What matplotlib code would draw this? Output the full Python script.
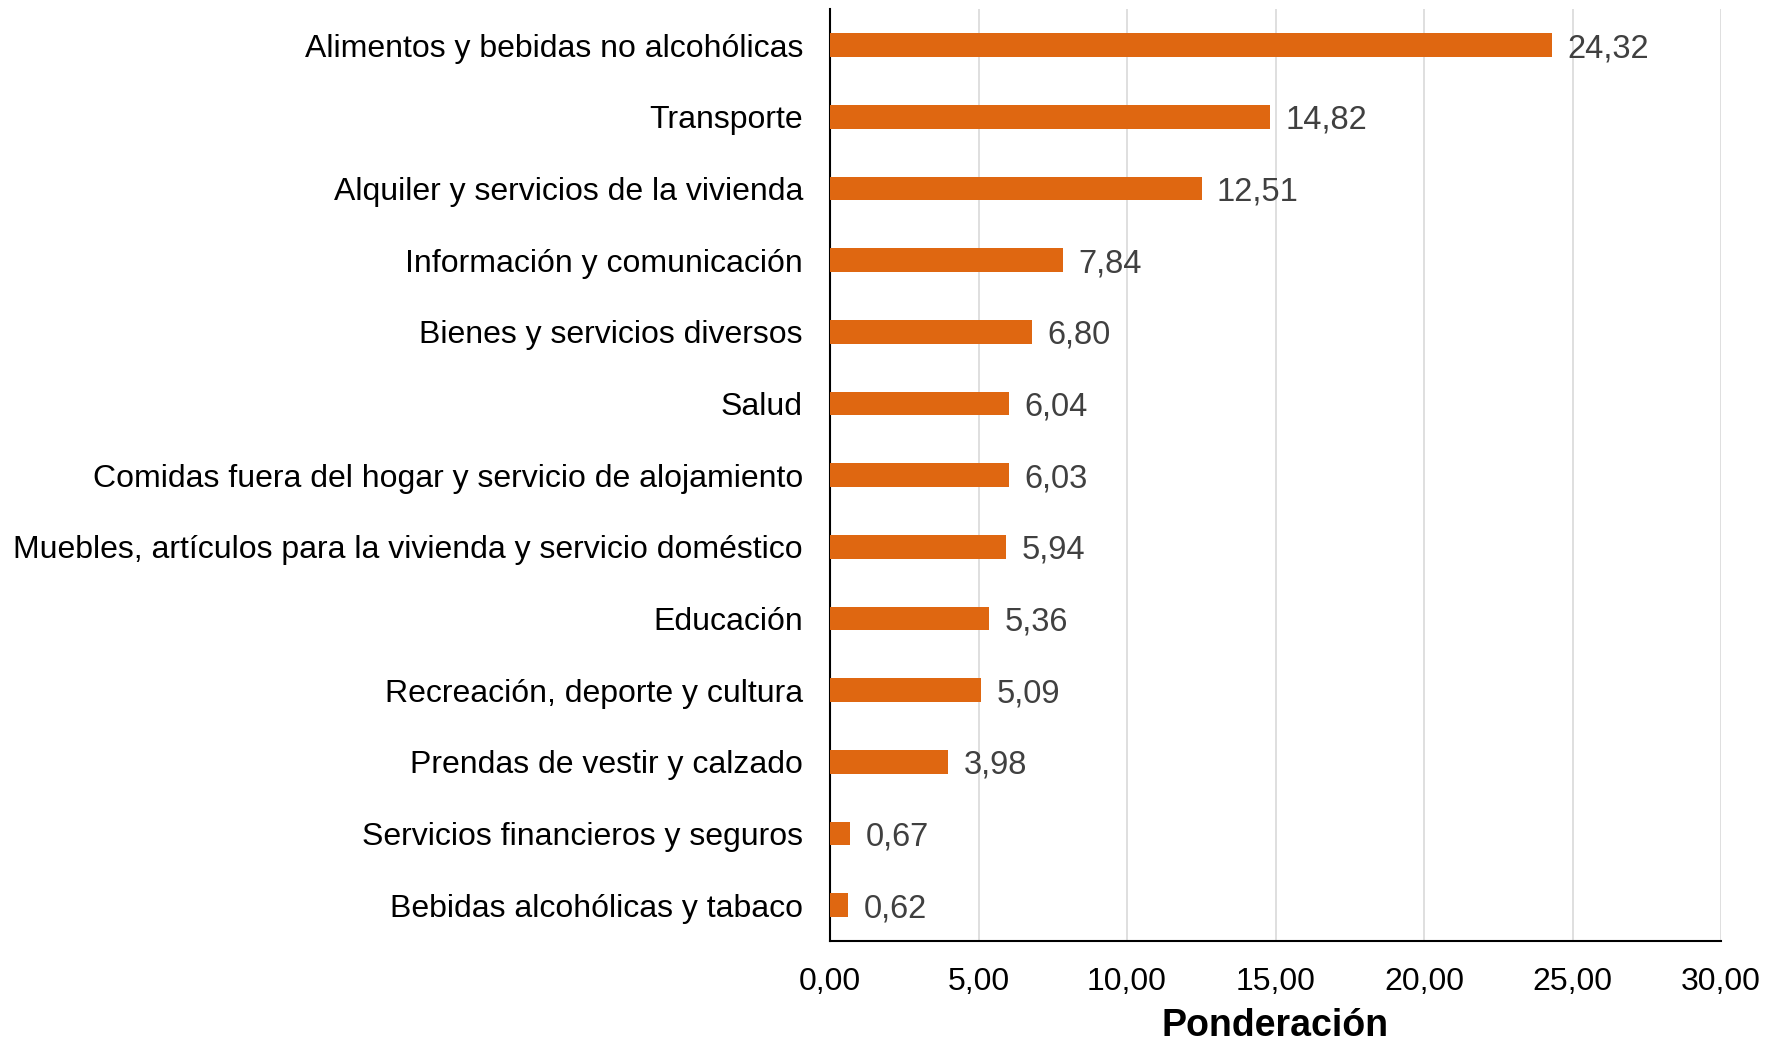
import matplotlib
matplotlib.use("Agg")
import matplotlib.pyplot as plt
from matplotlib.ticker import FuncFormatter

# ponderaciones por división (de mayor a menor)
categorias = [
    "Alimentos y bebidas no alcohólicas",
    "Transporte",
    "Alquiler y servicios de la vivienda",
    "Información y comunicación",
    "Bienes y servicios diversos",
    "Salud",
    "Comidas fuera del hogar y servicio de alojamiento",
    "Muebles, artículos para la vivienda y servicio doméstico",
    "Educación",
    "Recreación, deporte y cultura",
    "Prendas de vestir y calzado",
    "Servicios financieros y seguros",
    "Bebidas alcohólicas y tabaco",
]
valores = [24.32, 14.82, 12.51, 7.84, 6.80, 6.04, 6.03, 5.94, 5.36, 5.09, 3.98, 0.67, 0.62]
ticks_x = [0, 5, 10, 15, 20, 25, 30]

plt.rcParams['font.family'] = ['Liberation Sans', 'DejaVu Sans']

def coma(v, pos=None):
    return f"{v:.2f}".replace(".", ",")

fig = plt.figure(figsize=(17.79, 10.44), dpi=100)
ax = fig.add_axes([0.4666, 0.0987, 0.5008, 0.8923])

pos = list(range(len(categorias)))
ax.barh(pos, valores, height=0.33, color="#DF6711", zorder=3)

for p, v in zip(pos, valores):
    ax.annotate(coma(v), (v, p), xytext=(11, 0), textcoords="offset points",
                va="center_baseline", ha="left", fontsize=23.5, color="#404040")

ax.set_yticks(pos)
ax.set_yticklabels(categorias, fontsize=23)
ax.set_ylim(len(categorias) - 0.5, -0.5)
ax.set_xlim(0, 30)
ax.set_xticks(ticks_x)
ax.xaxis.set_major_formatter(FuncFormatter(coma))
ax.tick_params(axis="x", labelsize=23, length=0, pad=19)
ax.tick_params(axis="y", length=0, pad=19.5)
ax.grid(axis="x", color="#d9d9d9", linewidth=1.2, zorder=0)
ax.set_xlabel("Ponderación", fontsize=27, fontweight="bold", labelpad=8)

for s in ["top", "right"]:
    ax.spines[s].set_visible(False)
ax.spines["left"].set_color("black")
ax.spines["bottom"].set_color("black")
ax.spines["left"].set_linewidth(1.5)
ax.spines["bottom"].set_linewidth(1.5)

fig.savefig("out.png", dpi=100)
